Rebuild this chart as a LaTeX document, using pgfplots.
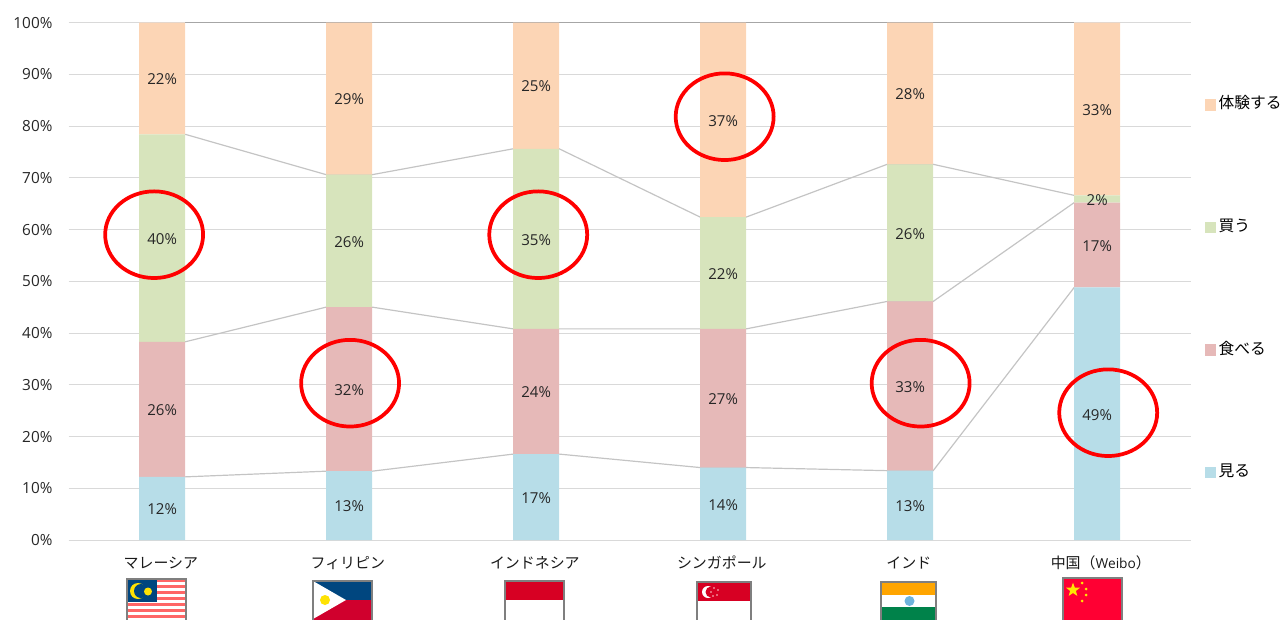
\documentclass[border=0pt]{standalone}
\usepackage{fontspec}
\setmainfont{Open Sans}
\newfontfamily\cjk{Noto Sans CJK JP}
\usepackage{pgfplots}
\usepackage{pgfplotstable}
\pgfplotsset{compat=1.18}
\usetikzlibrary{shapes.geometric}
\definecolor{cblue}{HTML}{B7DDE8}
\definecolor{cred}{HTML}{E6B9B8}
\definecolor{cgreen}{HTML}{D7E4BC}
\definecolor{corange}{HTML}{FCD5B5}
\definecolor{gridc}{HTML}{D9D9D9}
\definecolor{linec}{HTML}{C4C4C4}
\definecolor{flagb}{HTML}{7F7F7F}
\definecolor{fnavy}{HTML}{00467F}
\definecolor{fcrim}{HTML}{D0002D}
\definecolor{fredi}{HTML}{D70023}
\definecolor{forng}{HTML}{FFA500}
\definecolor{fgrn}{HTML}{00824A}
\definecolor{fsky}{HTML}{6FB4DC}
\definecolor{fchn}{HTML}{FF0033}
% x, share, top of the segment, printed percentage
\pgfplotstableread{
x v top p
0 12.2 12.2 12
1 13.3 13.3 13
2 16.6 16.6 17
3 14.0 14.0 14
4 13.4 13.4 13
5 48.8 48.8 49
}\miru
\pgfplotstableread{
x v top p
0 26.1 38.3 26
1 31.7 45.0 32
2 24.2 40.8 24
3 26.8 40.8 27
4 32.7 46.1 33
5 16.4 65.2 17
}\taberu
\pgfplotstableread{
x v top p
0 40.1 78.4 40
1 25.6 70.6 26
2 34.8 75.6 35
3 21.6 62.4 22
4 26.5 72.6 26
5 1.4 66.6 2
}\kau
\pgfplotstableread{
x v top p
0 21.6 100 22
1 29.4 100 29
2 24.4 100 25
3 37.6 100 37
4 27.4 100 28
5 33.4 100 33
}\taiken
\pgfplotstableread{
x y
-0.043 59.0
1.005 30.3
2.011 59.0
3.008 81.8
4.056 30.3
5.059 24.6
}\circles
\pgfplotsset{
  base/.style={
    at={(51.5pt,59.25pt)}, anchor=south west, scale only axis,
    width=841.5pt, height=388.1pt,
    xmin=-0.5, xmax=5.5, ymin=0, ymax=100, clip=false,
  },
  lab/.style={only marks, mark=none, point meta=explicit, nodes near coords={\pgfmathprintnumber[assume math mode=true]{\pgfplotspointmeta}\%},
    nodes near coords align={center}, every node near coord/.append style={font=\fontsize{11.3pt}{12pt}\selectfont, text=black!85, inner sep=0pt, yshift=-0.7pt}},
  conn/.style={line width=0.9pt},
}
\begin{document}
\begin{tikzpicture}[x=0.75pt,y=0.75pt]
\path[use as bounding box] (0,0) rectangle (1282,619);
% grid, ticks and series lines (each line runs from bar edge to bar edge; the flat stretch is hidden by the bar)
\begin{axis}[base,
  axis y line*=left, axis x line*=bottom,
  y axis line style={draw=none}, x axis line style={draw=gridc,line width=0.75pt},
  major tick length=0pt,
  ymajorgrids, grid style={draw=gridc,line width=0.75pt},
  ytick={0,10,...,100},
  yticklabel={\pgfmathprintnumber[assume math mode=true]{\tick}\%},
  yticklabel style={font=\fontsize{11.5pt}{12pt}\selectfont, text=black!85, inner sep=0pt, xshift=-12pt, yshift=-0.1pt},
  xtick={0,1,2,3,4,5},
  xticklabels={{\cjk マレーシア},{\cjk フィリピン},{\cjk インドネシア},{\cjk シンガポール},{\cjk インド},{\hspace*{7.5pt}{\cjk 中国（}{\fontsize{10.3pt}{12pt}\selectfont Weibo}{\cjk ）}}},
  xticklabel style={font=\fontsize{11.2pt}{13pt}\selectfont, text=black!90, yshift=-12pt, xshift=-1pt, inner sep=0pt, text height=9pt, text depth=2pt},
]
\addplot[linec,conn] coordinates {(0.123,12.2)(0.877,13.3)(1.123,13.3)(1.877,16.6)(2.123,16.6)(2.877,14.0)(3.123,14.0)(3.877,13.4)(4.123,13.4)(4.877,48.8)};
\addplot[linec,conn] coordinates {(0.123,38.3)(0.877,45.0)(1.123,45.0)(1.877,40.8)(2.123,40.8)(2.877,40.8)(3.123,40.8)(3.877,46.1)(4.123,46.1)(4.877,65.2)};
\addplot[linec,conn] coordinates {(0.123,78.4)(0.877,70.6)(1.123,70.6)(1.877,75.6)(2.123,75.6)(2.877,62.4)(3.123,62.4)(3.877,72.6)(4.123,72.6)(4.877,66.6)};
\addplot[gray!70,conn] coordinates {(0.123,100)(4.877,100)};
\end{axis}
% stacked bars
\begin{axis}[base, hide axis, ybar stacked, bar width=34.5pt,
  reverse legend,
  legend image code/.code={\fill[#1,draw=none] (0,-5.5pt) rectangle (8.5pt,3pt);},
  legend style={draw=none, fill=none, at={(1.0125,0.114)}, anchor=south west,
    font=\fontsize{11.8pt}{13pt}\selectfont\cjk, row sep=76.75pt, inner sep=0pt, outer sep=0pt},
  legend cell align=left,
]
\addplot[fill=cblue,draw=none] table[x=x,y=v]{\miru};
\addplot[fill=cred,draw=none] table[x=x,y=v]{\taberu};
\addplot[fill=cgreen,draw=none] table[x=x,y=v]{\kau};
\addplot[fill=corange,draw=none] table[x=x,y=v]{\taiken};
\legend{見る,食べる,買う,体験する}
\end{axis}
% percentage labels and circles
\begin{axis}[base, hide axis]
\addplot[lab] table[x=x,y expr=\thisrow{top}-\thisrow{v}/2,meta=p]{\miru};
\addplot[lab] table[x=x,y expr=\thisrow{top}-\thisrow{v}/2,meta=p]{\taberu};
\addplot[lab] table[x=x,y expr=\thisrow{top}-\thisrow{v}/2,meta=p]{\kau};
\addplot[lab] table[x=x,y expr=\thisrow{top}-\thisrow{v}/2,meta=p]{\taiken};
\addplot[only marks, mark=o, mark size=32.5pt, mark options={xscale=1.13, draw=red, fill=none, line width=2.8pt}] table[x=x,y=y]{\circles};
\end{axis}
% flags (pixel coordinates measured from the top left)
\begin{scope}[shift={(0,619)},y=-0.75pt]
  % Malaysia
  \foreach \i in {0,2,4,6,8,10,12}{\fill[red!60!white] (127,{579+\i*3}) rectangle (186,{579+(\i+1)*3});}
  \fill[fnavy] (127,579) rectangle (157,602);
  \fill[yellow!85!orange] (138,591) circle (8);
  \fill[fnavy] (141,591) circle (7);
  \fill[yellow!85!orange] (148,591.5) circle (4);
  \draw[flagb,line width=1pt] (127,622) -- (127,579) -- (186,579) -- (186,622);
  % Philippines
  \fill[fnavy] (313,581) rectangle (372,600);
  \fill[fcrim] (313,600) rectangle (372,622);
  \fill[white] (313,581) -- (346,600) -- (313,619) -- cycle;
  \fill[yellow!85!orange] (325,600) circle (5);
  \draw[flagb,line width=1pt] (313,622) -- (313,581) -- (372,581) -- (372,622);
  % Indonesia
  \fill[fredi] (505,581) rectangle (564,600);
  \draw[flagb,line width=1pt] (505,622) -- (505,581) -- (564,581) -- (564,622);
  % Singapore
  \fill[fredi] (697,582) rectangle (751,601);
  \fill[white] (708,592) circle (6);
  \fill[fredi] (711,592) circle (5.5);
  \foreach \a/\b in {714/588,718/590,717/595,713/596,711/592}{\fill[white!80!red] (\a,\b) circle (0.8);}
  \draw[flagb,line width=1pt] (697,622) -- (697,582) -- (751,582) -- (751,622);
  % India
  \fill[forng] (881,582) rectangle (936,595);
  \fill[fgrn] (881,607) rectangle (936,622);
  \fill[fsky] (909.5,601) circle (5);
  \draw[flagb,line width=1pt] (881,622) -- (881,582) -- (936,582) -- (936,622);
  % China
  \fill[fchn] (1063,578) rectangle (1122,622);
  \node[star,star points=5,star point ratio=2.4,fill=yellow!90!orange,inner sep=0pt,minimum size=11pt] at (1073,590) {};
  \foreach \a/\b in {1082/583,1086/589,1086/595,1082/601}{\fill[yellow!90!orange] (\a,\b) circle (1.5);}
  \draw[flagb,line width=1pt] (1063,622) -- (1063,578) -- (1122,578) -- (1122,622);
\end{scope}
\end{tikzpicture}
\end{document}
